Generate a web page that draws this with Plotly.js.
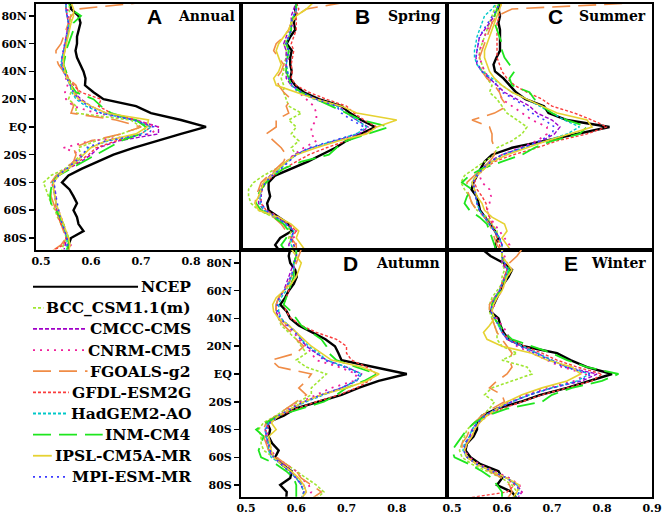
<!DOCTYPE html>
<html>
<head>
<meta charset="utf-8">
<script src="https://cdn.plot.ly/plotly-3.0.1.min.js"></script>
<style>
  html, body { margin: 0; padding: 0; background: #fff; }
  #chart { width: 664px; height: 517px; }
</style>
</head>
<body>
<div id="chart"></div>
<script>
// latitude grid, south to north
const lats = [-90,-85,-80,-75,-70,-65,-60,-55,-50,-45,
              -40,-35,-30,-25,-20,-15,-10,-5,0,
              5,10,15,20,25,30,35,40,45,
              50,55,60,65,70,75,80,85,90];

const names = ["NCEP", "BCC_CSM1.1(m)", "CMCC-CMS", "CNRM-CM5", "FGOALS-g2",
               "GFDL-ESM2G", "HadGEM2-AO", "INM-CM4", "IPSL-CM5A-MR", "MPI-ESM-MR"];

const latTicks = [-80, -60, -40, -20, 0, 20, 40, 60, 80];
const latLabels = ["80S", "60S", "40S", "20S", "EQ", "20N", "40N", "60N", "80N"];

// one row per dataset, same order as names
const annual = [
  [.555,.555,.56,.585,.575,.572,.565,.572,.565,.557, .542,.555,.582,.612,.645,.685,.73,.78,.83, .78,.72,.69,.625,.605,.588,.589,.585,.578, .572,.569,.572,.572,.576,.579,.575,.56,.558],
  [.54,.545,.55,.548,.54,.533,.528,.52,.515,.51, .505,.52,.548,.565,.58,.575,.61,.66,.7, .68,.57,.57,.555,.56,.56,.555,.548,.545, .545,.548,.55,.552,.555,.56,.56,.555,.56],
  [.545,.548,.552,.548,.542,.536,.532,.53,.53,.528, .525,.535,.555,.58,.6,.615,.655,.735,.735, .69,.63,.6,.58,.565,.56,.552,.545,.54, .542,.545,.548,.55,.552,.555,.552,.55,.55],
  [.55,.56,.555,.55,.545,.54,.535,.53,.528,.525, .522,.535,.55,.565,.58,.545,.6,.72,.735, .69,.61,.565,.55,.548,.553,.55,.545,.542, .542,.545,.548,.55,.553,.556,.555,.552,.55],
  [.52,.54,.55,.545,.54,.535,.53,.525,.52,.52, .52,.53,.55,.565,.57,.565,.6,.66,.70, .65,.56,.565,.56,.575,.57,.555,.545,.535, .53,.53,.54,.545,.55,.555,.56,.575,.71],
  [.52,.545,.55,.548,.54,.535,.53,.53,.528,.525, .522,.535,.555,.575,.595,.61,.65,.7,.72, .69,.64,.615,.62,.58,.565,.555,.55,.545, .545,.548,.55,.552,.555,.555,.552,.55,.55],
  [.55,.552,.552,.548,.542,.538,.535,.53,.528,.525, .523,.533,.552,.572,.585,.595,.635,.7,.72, .685,.62,.59,.57,.562,.558,.552,.545,.54, .542,.545,.548,.552,.555,.555,.553,.55,.55],
  [.55,.555,.555,.55,.545,.538,.53,.52,.518,.52, .522,.535,.56,.585,.61,.635,.66,.7,.71, .69,.64,.62,.605,.57,.56,.555,.55,.545, .548,.55,.555,.56,.565,.565,.58,.56,.555],
  [.555,.558,.555,.55,.545,.54,.535,.53,.528,.525, .525,.535,.555,.57,.585,.6,.63,.69,.712, .715,.63,.6,.575,.565,.56,.552,.548,.545, .545,.548,.552,.555,.558,.56,.565,.565,.56],
  [.55,.553,.552,.548,.543,.538,.535,.532,.53,.528, .526,.535,.552,.57,.585,.59,.63,.715,.725, .685,.62,.595,.575,.565,.558,.552,.546,.542, .542,.545,.548,.55,.553,.555,.553,.55,.55]
];

const spring = [
  [.568,.558,.568,.591,.585,.565,.545,.542,.548,.545, .545,.558,.59,.623,.65,.678,.70,.73,.757, .729,.707,.69,.645,.615,.598,.588,.591,.588, .588,.591,.581,.588,.598,.595,.598,.598,.601],
  [.6,.59,.585,.59,.575,.555,.525,.51,.505,.505, .515,.535,.56,.58,.6,.59,.605,.59,.6, .585,.61,.585,.58,.575,.575,.57,.575,.575, .58,.58,.575,.585,.59,.59,.595,.6,.6],
  [.59,.585,.59,.595,.58,.56,.535,.525,.525,.528, .535,.548,.565,.58,.596,.63,.68,.725,.743, .72,.7,.685,.64,.61,.59,.58,.58,.58, .58,.58,.575,.58,.585,.59,.59,.595,.6],
  [.6,.6,.595,.6,.585,.565,.54,.53,.528,.53, .535,.55,.565,.58,.595,.615,.64,.63,.63, .64,.64,.635,.62,.605,.59,.585,.58,.58, .585,.585,.58,.585,.59,.595,.595,.6,.6],
  [.6,.6,.59,.58,.57,.555,.53,.518,.52,.525, .53,.545,.56,.575,.58,.57,.555,.54,.56, .56,.585,.58,.59,.575,.565,.56,.57,.575, .565,.555,.56,.575,.585,.59,.6,.62,.70],
  [.6,.595,.59,.6,.585,.565,.54,.53,.53,.532, .54,.555,.575,.6,.625,.66,.7,.735,.76, .735,.715,.7,.66,.625,.6,.59,.592,.59, .592,.595,.59,.595,.6,.6,.6,.605,.6],
  [.595,.59,.59,.595,.58,.56,.535,.528,.528,.53, .538,.55,.568,.585,.6,.63,.675,.72,.74, .72,.7,.68,.635,.605,.59,.585,.583,.58, .583,.585,.58,.585,.59,.59,.595,.6,.6],
  [.58,.57,.58,.585,.575,.555,.53,.52,.522,.53, .54,.555,.575,.61,.665,.68,.7,.745,.785, .73,.7,.67,.64,.61,.59,.585,.58,.58, .583,.585,.58,.585,.59,.59,.595,.6,.6],
  [.62,.61,.6,.605,.59,.565,.525,.518,.525,.53, .535,.55,.565,.58,.6,.64,.685,.74,.76, .8,.72,.69,.64,.6,.56,.555,.565,.57, .565,.56,.565,.575,.585,.59,.6,.62,.635],
  [.6,.595,.59,.595,.58,.56,.54,.53,.53,.532, .538,.552,.57,.585,.6,.625,.67,.72,.735, .71,.69,.68,.64,.61,.592,.585,.582,.58, .582,.585,.58,.585,.59,.59,.595,.6,.6]
];

const summer = [
  [.59,.586,.593,.586,.576,.566,.556,.553,.549,.539, .543,.55,.557,.565,.58,.62,.685,.75,.815, .73,.693,.684,.647,.628,.615,.603,.586,.583, .589,.596,.596,.596,.596,.593,.596,.593,.596],
  [.6,.6,.59,.59,.58,.57,.55,.54,.535,.525, .518,.525,.545,.565,.585,.59,.62,.64,.65, .63,.61,.6,.59,.575,.58,.57,.565,.56, .555,.555,.56,.565,.57,.575,.58,.585,.59],
  [.6,.6,.595,.585,.575,.565,.555,.55,.548,.545, .542,.55,.56,.575,.6,.64,.68,.705,.716, .7,.67,.655,.63,.605,.59,.575,.56,.55, .548,.55,.552,.555,.565,.575,.585,.59,.595],
  [.61,.615,.605,.595,.585,.575,.57,.575,.578,.575, .56,.555,.56,.575,.6,.635,.67,.69,.69, .66,.64,.62,.6,.595,.59,.575,.565,.56, .555,.555,.56,.565,.57,.58,.585,.59,.595],
  [.6,.59,.585,.58,.575,.565,.55,.54,.535,.53, .53,.545,.56,.575,.585,.585,.58,.58,.575, .54,.585,.61,.6,.595,.585,.57,.56,.555, .555,.56,.565,.57,.575,.58,.59,.62,.9],
  [.6,.595,.59,.585,.58,.575,.57,.568,.56,.55, .545,.55,.565,.585,.623,.67,.71,.77,.81, .78,.745,.7,.68,.65,.625,.61,.6,.595, .59,.59,.59,.59,.59,.59,.595,.595,.6],
  [.6,.6,.595,.585,.575,.565,.555,.55,.548,.545, .54,.548,.56,.58,.6,.645,.69,.73,.755, .725,.7,.675,.65,.62,.6,.58,.56,.55, .545,.545,.548,.55,.555,.56,.565,.58,.59],
  [.59,.585,.58,.575,.57,.555,.535,.525,.53,.54, .52,.535,.56,.6,.64,.665,.7,.755,.77, .73,.7,.68,.665,.655,.62,.615,.625,.615, .605,.6,.6,.595,.59,.585,.585,.59,.595],
  [.62,.61,.6,.61,.605,.58,.565,.56,.55,.545, .54,.55,.565,.58,.61,.65,.69,.735,.78, .77,.71,.68,.65,.62,.6,.585,.575,.57, .565,.565,.57,.575,.58,.585,.59,.595,.6],
  [.6,.6,.595,.585,.575,.565,.555,.55,.548,.545, .542,.55,.562,.578,.6,.64,.675,.7,.705, .685,.66,.645,.625,.6,.59,.575,.56,.552, .548,.55,.553,.555,.563,.572,.58,.59,.595]
];

const autumn = [
  [.58,.581,.568,.588,.591,.571,.558,.565,.552,.545, .548,.542,.575,.598,.644,.69,.724,.764,.82, .757,.69,.684,.677,.658,.631,.605,.588,.581, .568,.578,.585,.595,.601,.598,.588,.585,.588],
  [.64,.655,.64,.62,.6,.58,.555,.535,.53,.53, .525,.535,.56,.58,.605,.63,.63,.645,.66, .62,.6,.62,.61,.6,.585,.57,.565,.56, .56,.565,.575,.585,.59,.595,.595,.6,.6],
  [.61,.62,.615,.6,.59,.575,.555,.545,.542,.54, .538,.545,.565,.59,.615,.65,.69,.72,.73, .7,.66,.64,.62,.61,.6,.585,.565,.56, .56,.565,.575,.58,.585,.59,.595,.6,.6],
  [.62,.63,.625,.61,.6,.58,.56,.55,.548,.545, .54,.55,.565,.585,.61,.64,.67,.715,.72, .685,.64,.63,.62,.605,.595,.58,.57,.565, .565,.565,.575,.585,.59,.595,.6,.6,.6],
  [.63,.65,.63,.61,.6,.58,.56,.545,.54,.535, .535,.54,.56,.58,.6,.62,.605,.62,.63, .565,.55,.6,.615,.6,.59,.575,.565,.56, .56,.565,.575,.585,.59,.595,.6,.605,.61],
  [.61,.615,.61,.6,.585,.57,.555,.548,.545,.54, .54,.548,.568,.6,.64,.685,.72,.745,.76, .74,.71,.7,.7,.68,.64,.61,.59,.58, .575,.58,.585,.59,.595,.595,.595,.6,.6],
  [.61,.615,.61,.6,.585,.57,.55,.545,.545,.54, .538,.545,.565,.59,.62,.655,.69,.72,.73, .7,.66,.645,.625,.61,.6,.585,.57,.565, .565,.57,.58,.585,.59,.595,.595,.6,.6],
  [.6,.6,.6,.595,.58,.56,.53,.525,.53,.535, .52,.54,.565,.61,.655,.68,.7,.735,.76, .72,.68,.665,.66,.65,.63,.61,.6,.59, .575,.58,.585,.59,.595,.595,.595,.6,.6],
  [.61,.62,.615,.605,.59,.57,.555,.55,.548,.545, .56,.55,.565,.59,.615,.65,.7,.74,.765, .73,.67,.65,.63,.615,.6,.585,.565,.555, .553,.56,.575,.59,.6,.605,.61,.6,.59],
  [.61,.615,.61,.6,.585,.57,.555,.548,.545,.54, .54,.548,.565,.59,.615,.65,.69,.717,.725, .695,.655,.64,.62,.608,.598,.583,.568,.562, .562,.566,.576,.583,.589,.594,.596,.6,.6]
];

const winter = [
  [.63,.62,.59,.6,.593,.557,.537,.527,.53,.543, .55,.55,.56,.59,.637,.677,.73,.777,.82, .77,.737,.71,.643,.613,.603,.597,.593,.577, .583,.59,.597,.603,.613,.62,.603,.577,.56],
  [.62,.63,.62,.6,.57,.54,.52,.515,.52,.525, .53,.545,.56,.575,.585,.565,.58,.62,.66, .65,.6,.63,.6,.59,.59,.585,.58,.575, .575,.58,.59,.6,.6,.605,.6,.6,.6],
  [.63,.64,.63,.61,.58,.55,.53,.525,.528,.535, .54,.55,.565,.59,.62,.655,.7,.76,.79, .73,.7,.67,.64,.61,.6,.595,.585,.578, .58,.585,.595,.6,.605,.61,.6,.6,.6],
  [.63,.64,.635,.615,.585,.555,.535,.525,.53,.54, .545,.555,.57,.59,.615,.645,.69,.745,.77, .72,.69,.66,.63,.615,.61,.6,.59,.58, .585,.59,.6,.605,.61,.62,.61,.605,.6],
  [.61,.62,.615,.6,.575,.55,.53,.52,.52,.53, .535,.545,.56,.58,.605,.6,.575,.59,.61, .62,.615,.62,.61,.6,.59,.585,.58,.575, .575,.585,.595,.6,.605,.61,.615,.63,.64],
  [.52,.61,.625,.61,.58,.55,.53,.525,.53,.54, .545,.555,.57,.6,.64,.68,.73,.78,.8, .75,.71,.68,.645,.615,.6,.595,.585,.58, .58,.585,.595,.6,.605,.61,.605,.6,.6],
  [.625,.635,.63,.61,.58,.55,.53,.522,.525,.535, .54,.55,.565,.59,.62,.655,.7,.75,.775, .73,.7,.67,.64,.612,.6,.593,.585,.578, .58,.586,.595,.6,.607,.612,.605,.6,.6],
  [.6,.6,.59,.58,.56,.535,.505,.5,.51,.52, .53,.545,.57,.61,.68,.7,.74,.8,.833, .77,.73,.7,.66,.62,.605,.595,.585,.578, .58,.588,.597,.603,.61,.615,.605,.6,.6],
  [.62,.63,.635,.61,.58,.55,.53,.525,.53,.54, .545,.555,.57,.59,.61,.64,.68,.73,.757, .74,.69,.66,.6,.57,.563,.575,.585,.58, .583,.59,.6,.605,.61,.62,.61,.6,.6],
  [.625,.635,.63,.61,.58,.55,.53,.523,.526,.536, .542,.552,.567,.59,.62,.655,.7,.755,.78, .725,.695,.665,.635,.61,.6,.593,.585,.578, .58,.586,.595,.6,.607,.612,.605,.6,.6]
];

// ---- styling ----
const W = 664, H = 517;
const serif = "DejaVu Serif, Liberation Serif, serif";

const styles = [
  { color: "#000000", width: 2.4, dash: "solid" },
  { color: "#a0e632", width: 1.6, dash: "3px,2px" },
  { color: "#a000c8", width: 1.4, dash: "4px,2px" },
  { color: "#f0209a", width: 1.8, dash: "2px,5px" },
  { color: "#f08c46", width: 1.6, dash: "18px,8px" },
  { color: "#fa3c3c", width: 1.4, dash: "3px,2px" },
  { color: "#00c8c8", width: 1.4, dash: "3px,2px" },
  { color: "#1ee61e", width: 1.8, dash: "18px,8px" },
  { color: "#e6d232", width: 1.6, dash: "solid" },
  { color: "#3c3cff", width: 1.6, dash: "2px,4px" }
];

// panel boxes in pixels: left, right, top, bottom
const panels = [
  { rows: annual, letter: "A", season: "Annual", box: [36, 241, 4, 249.5], yr: [-88.3, 88.6], xt: [0.5, 0.6, 0.7, 0.8], xlab: true, ylab: true, lx: 154, sx: 237 },
  { rows: spring, letter: "B", season: "Spring", box: [241, 447, 4, 249.5], yr: [-88.3, 88.6], xt: [], xlab: false, ylab: false, lx: 362, sx: 443 },
  { rows: summer, letter: "C", season: "Summer", box: [447, 652, 4, 249.5], yr: [-88.3, 88.6], xt: [], xlab: false, ylab: false, lx: 555, sx: 648 },
  { rows: autumn, letter: "D", season: "Autumn", box: [241, 447, 249.5, 496.7], yr: [-88.4, 89.7], xt: [0.5, 0.6, 0.7, 0.8], xlab: true, ylab: true, lx: 350, sx: 442 },
  { rows: winter, letter: "E", season: "Winter", box: [447, 652, 249.5, 496.7], yr: [-88.4, 89.7], xt: [0.5, 0.6, 0.7, 0.8, 0.9], xlab: true, ylab: false, lx: 571, sx: 648 }
];

const px = v => v / W;
const py = v => 1 - v / H;

const traces = [];
const layout = {
  width: W, height: H,
  margin: { l: 0, r: 0, t: 0, b: 0 },
  paper_bgcolor: "#fff", plot_bgcolor: "#fff",
  showlegend: false,
  annotations: [], shapes: []
};

panels.forEach((p, i) => {
  const n = i === 0 ? "" : String(i + 1);
  p.rows.forEach((vals, s) => {
    traces.push({
      type: "scatter", mode: "lines",
      x: vals, y: lats,
      xaxis: "x" + n, yaxis: "y" + n,
      line: { color: styles[s].color, width: styles[s].width, dash: styles[s].dash },
      hoverinfo: "skip", showlegend: false
    });
  });

  const [l, r, t, b] = p.box;
  layout["xaxis" + n] = {
    domain: [px(l), px(r)], anchor: "y" + n,
    range: [0.49, 0.9], fixedrange: true,
    showline: true, mirror: true, linecolor: "#000", linewidth: 2,
    showgrid: false, zeroline: false,
    ticks: "",
    tickmode: "array", tickvals: p.xt, ticktext: p.xt.map(v => v.toFixed(1)),
    showticklabels: p.xlab,
    tickfont: { family: serif, size: 11, color: "#000", weight: "bold" }
  };
  layout["yaxis" + n] = {
    domain: [py(b), py(t)], anchor: "x" + n,
    range: p.yr, fixedrange: true,
    showline: true, mirror: true, linecolor: "#000", linewidth: 2,
    showgrid: false, zeroline: false,
    ticks: p.ylab ? "outside" : "", ticklen: 5, tickwidth: 1.5, tickcolor: "#000",
    tickmode: "array", tickvals: latTicks, ticktext: latLabels,
    showticklabels: p.ylab,
    tickfont: { family: serif, size: 11, color: "#000", weight: "bold" }
  };

  const ty = i < 3 ? 17 : 263.5;
  layout.annotations.push({
    xref: "paper", yref: "paper", x: px(p.lx), y: py(ty),
    xanchor: "center", yanchor: "middle", showarrow: false,
    text: p.letter,
    font: { family: "Liberation Sans, Arial, sans-serif", size: 21, color: "#000", weight: "bold" }
  });
  layout.annotations.push({
    xref: "paper", yref: "paper", x: px(p.sx), y: py(ty - 1),
    xanchor: "right", yanchor: "middle", showarrow: false,
    text: p.season,
    font: { family: serif, size: 14, color: "#000", weight: "bold" }
  });
});

// legend in the empty lower-left corner: sample line, right-aligned name
const ctx = document.createElement("canvas").getContext("2d");
const legendFont = 15.5;
ctx.font = "bold " + legendFont + "px 'DejaVu Serif'";
names.forEach((nm, i) => {
  const yc = 286.7 + 21.13 * i;
  const textRight = 193;
  const textLeft = textRight - ctx.measureText(nm).width;
  layout.shapes.push({
    type: "line", xref: "paper", yref: "paper",
    x0: px(33), x1: px(textLeft - 5), y0: py(yc), y1: py(yc),
    line: { color: styles[i].color, width: i === 0 ? 2 : 1.8, dash: styles[i].dash }
  });
  layout.annotations.push({
    xref: "paper", yref: "paper", x: px(textRight), y: py(yc),
    xanchor: "right", yanchor: "middle", showarrow: false,
    text: nm,
    font: { family: serif, size: legendFont, color: "#000", weight: "bold" }
  });
});

Plotly.newPlot("chart", traces, layout, { displayModeBar: false, staticPlot: true });
</script>
</body>
</html>
